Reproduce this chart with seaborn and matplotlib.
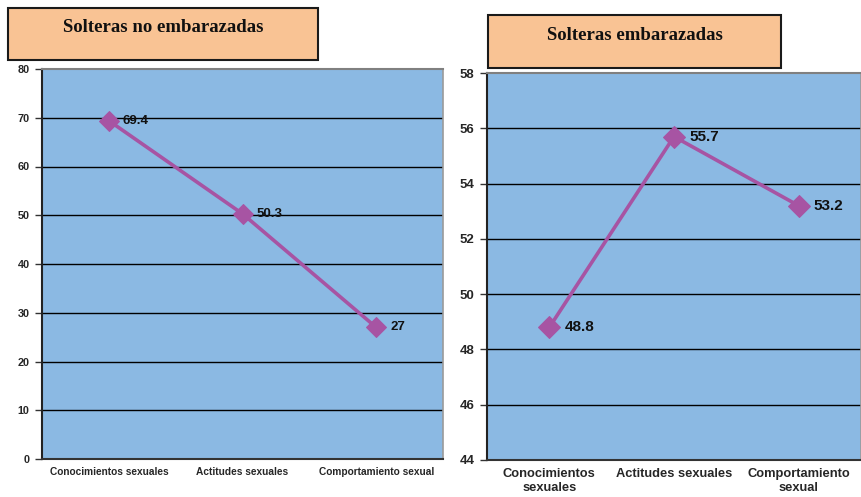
import matplotlib
matplotlib.use("Agg")
import matplotlib.pyplot as plt
from matplotlib.patches import Rectangle
import seaborn as sns
import pandas as pd
import numpy as np

# Chart data
categories_left = ["Conocimientos sexuales", "Actitudes sexuales", "Comportamiento sexual"]
categories_right = ["Conocimientos\nsexuales", "Actitudes sexuales", "Comportamiento\nsexual"]
no_embarazadas = [69.4, 50.3, 27]
embarazadas = [48.8, 55.7, 53.2]
labels_left = ["69.4", "50.3", "27"]
labels_right = ["48.8", "55.7", "53.2"]
title_left = "Solteras no embarazadas"
title_right = "Solteras embarazadas"

sns.set_style("white")
plt.rcParams["font.family"] = ["Liberation Sans", "DejaVu Sans"]

W, H = 861, 497
fig = plt.figure(figsize=(W / 100, H / 100), dpi=100)

PLOT_BG = "#8BB9E3"
LINE_C = "#A754A3"
BOX_C = "#F9C394"


def px_axes(x0, y0, x1, y1):
    return fig.add_axes([x0 / W, 1 - y1 / H, (x1 - x0) / W, (y1 - y0) / H])


def title_box(x0, y0, x1, y1, text, dy):
    fig.patches.append(Rectangle((x0 / W, 1 - y1 / H), (x1 - x0) / W, (y1 - y0) / H,
                                 transform=fig.transFigure, facecolor=BOX_C,
                                 edgecolor="#1a1a1a", linewidth=1.5))
    fig.text((x0 + x1) / 2 / W, 1 - ((y0 + y1) / 2 - dy) / H, text,
             ha="center", va="center", fontsize=13.5, fontweight="bold",
             family="Liberation Serif", color="#111111")


def draw_panel(ax, values, labels, cats, ymin, ymax, step, tick_fs, lab_fs, val_fs, ms, lab_dx):
    df = pd.DataFrame({"pos": np.arange(len(values)), "valor": values})
    ax.set_facecolor(PLOT_BG)
    sns.lineplot(data=df, x="pos", y="valor", ax=ax, color=LINE_C, linewidth=2.6,
                 marker="D", markersize=ms, markeredgecolor=LINE_C, zorder=5)
    ax.set_xlim(-0.5, len(values) - 0.5)
    ax.set_ylim(ymin, ymax)
    yt = np.arange(ymin, ymax + step / 2, step)
    ax.set_yticks(yt)
    ax.set_yticklabels([f"{v:g}" for v in yt], fontsize=tick_fs, fontweight="bold")
    for v in yt[1:-1]:
        ax.axhline(v, color="black", linewidth=1.0, zorder=1)
    ax.set_xticks(np.arange(len(values)))
    ax.set_xticklabels(cats, fontsize=lab_fs, fontweight="bold")
    ax.set_xticks(np.arange(-0.5, len(values)), minor=True)
    ax.tick_params(axis="x", which="major", length=0, pad=6)
    ax.tick_params(axis="x", which="minor", length=4, width=1, color="#333333", direction="out")
    ax.tick_params(axis="y", length=5, width=1, color="#333333", direction="out", pad=4, left=True)
    ax.set_xlabel("")
    ax.set_ylabel("")
    for i, (v, t) in enumerate(zip(values, labels)):
        ax.annotate(t, (i, v), xytext=(lab_dx, 0), textcoords="offset points",
                    ha="left", va="center", fontsize=val_fs, fontweight="bold", color="#111111", zorder=6)
    ax.spines["left"].set_color("#222222")
    ax.spines["left"].set_linewidth(1.5)
    ax.spines["bottom"].set_color("#333333")
    ax.spines["bottom"].set_linewidth(1.5)
    ax.spines["top"].set_color("#808080")
    ax.spines["top"].set_linewidth(1.5)
    ax.spines["right"].set_color("#9a9a9a")
    ax.spines["right"].set_linewidth(1.2)


ax1 = px_axes(42, 69, 443, 459)
draw_panel(ax1, no_embarazadas, labels_left, categories_left, 0, 80, 10,
           tick_fs=7.8, lab_fs=7.3, val_fs=9.5, ms=10.5, lab_dx=10)

ax2 = px_axes(487, 73, 861, 460)
draw_panel(ax2, embarazadas, labels_right, categories_right, 44, 58, 2,
           tick_fs=9.5, lab_fs=9.3, val_fs=11, ms=11, lab_dx=11)

title_box(8, 8, 318, 60, title_left, 6)
title_box(488, 15, 781, 68, title_right, 6)

fig.savefig("out.png", dpi=100, facecolor="white")
